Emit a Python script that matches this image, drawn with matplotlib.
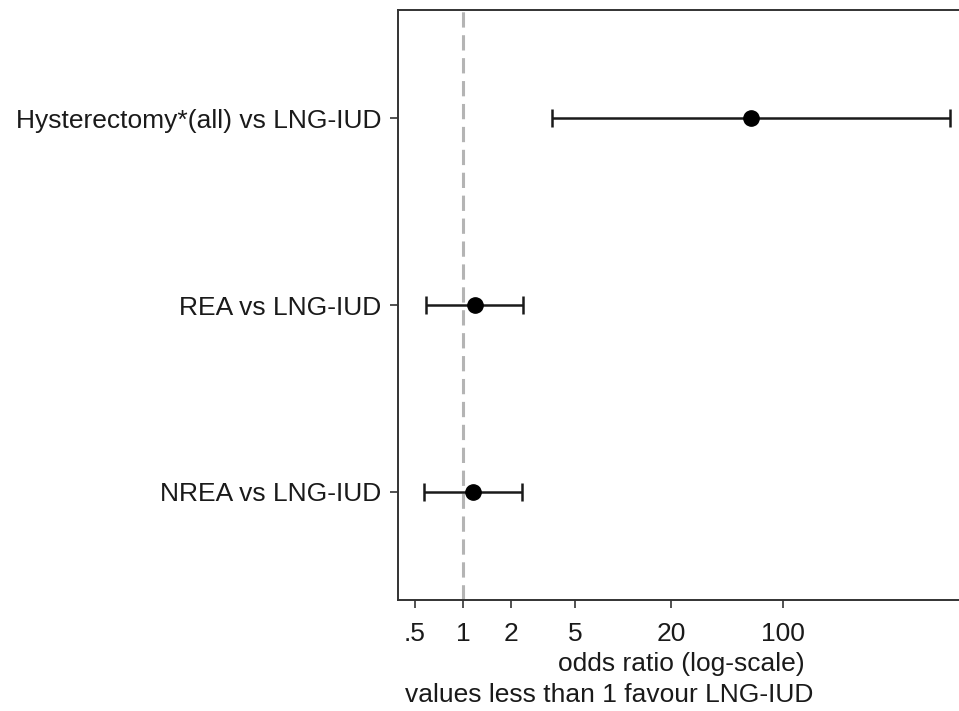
import matplotlib

matplotlib.use("Agg")
import matplotlib.pyplot as plt

plt.rcParams["font.family"] = ["Liberation Sans", "DejaVu Sans"]

labels = ["Hysterectomy*(all) vs LNG-IUD", "REA vs LNG-IUD", "NREA vs LNG-IUD"]
odds_ratio = [63.0, 1.19, 1.16]
ci_low = [3.6, 0.59, 0.57]
ci_high = [1110.0, 2.37, 2.34]
xticks = [0.5, 1, 2, 5, 20, 100]
xtick_labels = [".5", "1", "2", "5", "20", "100"]

W, H = 959, 711
FS = 19
fig = plt.figure(figsize=(W / 100, H / 100), dpi=100)
# axes runs a little past the right edge, as in the cropped original
ax = fig.add_axes([398 / W, 1 - 600 / H, (964 - 398) / W, (600 - 10) / H])

ypos = list(range(1, len(labels) + 1))
err_lo = [o - l for o, l in zip(odds_ratio, ci_low)]
err_hi = [h - o for o, h in zip(odds_ratio, ci_high)]

ax.axvline(1, color="#b4b4b4", lw=2.2, ls=(0, (5, 2.5)), zorder=1)
ax.errorbar(
    odds_ratio, ypos, xerr=[err_lo, err_hi],
    fmt="o", color="black", ms=11, ecolor="#1a1a1a", elinewidth=1.8,
    capsize=6.5, capthick=1.8, zorder=3,
)

ax.set_xscale("log")
ax.set_xlim(0.393, 1350)
ax.set_ylim(3.58, 0.42)
ax.set_xticks(xticks)
ax.set_xticklabels(xtick_labels)
ax.minorticks_off()
ax.set_yticks(ypos)
ax.set_yticklabels(labels)

for side in ["left", "bottom", "top", "right"]:
    ax.spines[side].set_color("#333333")
    ax.spines[side].set_linewidth(1.4)

ax.tick_params(axis="both", colors="#333333", labelcolor="#1a1a1a", width=1.2,
               length=6, labelsize=FS)
ax.tick_params(axis="x", pad=10)
ax.tick_params(axis="y", pad=6)

ax.set_xlabel("odds ratio (log-scale)", fontsize=FS, color="#1a1a1a", labelpad=4)
fig.text(405 / W, 1 - 695 / H, "values less than 1 favour LNG-IUD",
         fontsize=FS, color="#1a1a1a", ha="left", va="center")

fig.savefig("out.png", dpi=100)
